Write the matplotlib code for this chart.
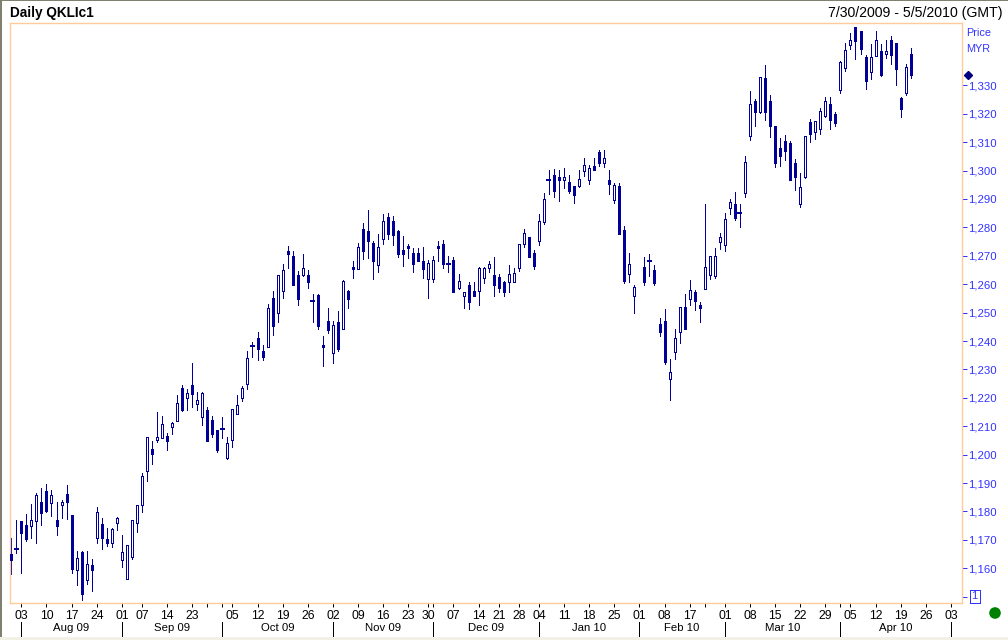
import numpy as np
import matplotlib
matplotlib.use("Agg")
import matplotlib.pyplot as plt
from matplotlib.patches import Rectangle
from matplotlib.transforms import blended_transform_factory

nan = np.nan

opens = [
    1165.0, 1166.8, 1176.7, 1175.2, 1174.9, 1176.7, 1183.3, 1187.2, 1183.0, 1177.0,
    1182.3, 1186.2, 1178.8, 1159.4, 1165.7, 1155.9, 1161.2, 1170.7, 1175.6, 1170.3,
    1168.9, 1176.0, 1162.9, 1156.2, 1164.0, 1176.0, 1182.3, 1194.3, 1202.0, 1205.2,
    1205.9, 1206.6, 1209.7, 1211.9, 1223.5, 1219.9, 1224.5, 1217.8, 1213.3, 1215.7,
    1212.2, 1208.7, 1209.0, 1198.8, 1205.2, 1214.3, 1219.9, 1224.9, 1238.2, 1241.1,
    1236.5, 1237.9, 1255.1, 1249.9, 1257.6, 1271.7, 1269.9, 1263.2, 1263.2, 1263.2,
    1254.1, 1256.2, 1238.6, 1247.1, 1235.8, 1246.7, 1244.2, 1257.6, 1266.1, 1265.4,
    1279.4, 1278.7, 1274.5, 1266.8, 1275.9, 1283.7, 1282.2, 1278.7, 1272.0, 1273.4,
    1271.0, 1271.0, 1268.2, 1261.8, 1261.8, 1273.4, 1274.2, 1267.1, 1268.5, 1258.7,
    1255.9, 1259.7, 1257.6, 1257.6, 1262.2, 1265.7, 1263.2, 1262.5, 1260.8, 1260.8,
    1260.8, 1265.7, 1274.2, 1276.6, 1271.0, 1275.2, 1281.9, 1296.7, 1298.4, 1297.7,
    1296.7, 1296.0, 1294.6, 1294.6, 1299.9, 1296.7, 1301.6, 1306.5, 1302.7, 1296.7,
    1289.6, 1294.6, 1279.1, 1263.6, 1255.9, nan, 1266.1, 1268.2, 1265.0, 1246.0,
    1247.1, 1226.6, 1236.1, 1243.2, 1252.0, 1254.8, 1257.3, 1252.7, 1258.3, 1263.2,
    1262.9, 1274.9, 1273.8, 1286.8, 1288.2, 1285.1, 1292.1, 1312.3, 1324.5, 1320.6,
    1332.6, 1324.5, 1315.7, 1307.9, 1310.4, 1309.6, 1302.7, 1288.2, 1297.7, 1317.1,
    1313.6, 1314.6, 1319.2, 1323.4, 1319.9, 1328.4, 1336.1, 1344.2, 1350.5, 1349.1,
    1340.0, 1334.7, 1340.3, 1342.1, 1341.0, 1346.0, 1344.9, 1325.6, 1327.3, 1341.0,
]
highs = [
    1170.7, 1177.0, 1176.7, 1179.1, 1182.6, 1186.5, 1188.3, 1189.7, 1187.6, 1183.3,
    1184.0, 1189.3, 1178.8, 1166.1, 1166.1, 1166.1, 1163.3, 1181.6, 1177.7, 1174.2,
    1174.2, 1178.1, 1171.7, 1168.2, 1177.0, 1182.3, 1193.6, 1206.2, 1204.8, 1215.0,
    1213.6, 1207.6, 1211.5, 1221.0, 1224.5, 1223.1, 1232.3, 1222.1, 1222.1, 1216.8,
    1213.6, 1208.7, 1213.3, 1206.2, 1216.1, 1221.0, 1224.2, 1236.5, 1239.7, 1243.2,
    1238.6, 1253.0, 1257.6, 1263.2, 1267.1, 1273.4, 1271.7, 1264.6, 1270.6, 1265.0,
    1256.6, 1256.6, 1241.8, 1251.6, 1247.1, 1250.6, 1261.5, 1258.0, 1268.2, 1274.5,
    1281.5, 1286.1, 1275.2, 1277.7, 1284.7, 1285.1, 1284.0, 1279.1, 1277.0, 1274.2,
    1272.7, 1272.7, 1273.1, 1268.5, 1269.9, 1275.2, 1275.6, 1269.9, 1269.6, 1263.6,
    1257.3, 1260.8, 1260.8, 1266.1, 1266.1, 1268.2, 1269.6, 1263.6, 1261.1, 1266.8,
    1265.7, 1274.2, 1279.4, 1276.6, 1272.0, 1284.7, 1292.1, 1300.2, 1300.6, 1300.2,
    1300.9, 1298.4, 1294.6, 1300.2, 1304.4, 1302.0, 1304.4, 1307.2, 1307.2, 1300.2,
    1295.6, 1295.6, 1280.5, 1271.0, 1259.7, nan, 1269.6, 1270.6, 1266.8, 1248.1,
    1251.3, 1233.7, 1244.2, 1252.0, 1256.6, 1261.5, 1258.0, 1253.7, 1288.2, 1269.9,
    1272.7, 1278.0, 1285.1, 1290.0, 1292.5, 1288.2, 1305.1, 1328.0, 1325.2, 1332.9,
    1337.2, 1326.6, 1315.7, 1311.5, 1312.5, 1310.4, 1304.1, 1299.1, 1312.2, 1318.2,
    1317.5, 1322.0, 1325.9, 1325.9, 1320.6, 1338.6, 1344.9, 1348.4, 1350.5, 1349.1,
    1340.7, 1344.6, 1349.1, 1344.6, 1346.0, 1347.4, 1344.9, 1325.9, 1337.5, 1343.1,
]
lows = [
    1158.0, 1165.4, 1158.4, 1169.6, 1170.7, 1168.9, 1175.2, 1179.8, 1178.4, 1171.7,
    1177.7, 1177.4, 1158.4, 1154.1, 1148.8, 1154.5, 1152.0, 1168.9, 1166.8, 1167.9,
    1167.5, 1173.5, 1160.5, 1156.2, 1163.3, 1172.8, 1179.8, 1190.7, 1196.7, 1204.5,
    1205.9, 1201.6, 1207.3, 1211.9, 1215.4, 1215.7, 1216.8, 1215.7, 1210.4, 1204.8,
    1206.2, 1200.9, 1205.9, 1198.5, 1202.7, 1214.3, 1218.9, 1223.1, 1234.4, 1233.3,
    1233.3, 1237.9, 1242.1, 1246.7, 1255.1, 1265.7, 1259.7, 1252.7, 1262.9, 1258.7,
    1246.7, 1244.2, 1231.2, 1242.8, 1232.3, 1236.5, 1244.2, 1251.6, 1262.2, 1265.4,
    1268.9, 1269.2, 1261.8, 1264.3, 1274.2, 1275.9, 1273.8, 1269.6, 1266.4, 1269.2,
    1264.3, 1268.2, 1262.2, 1255.1, 1260.8, 1268.2, 1265.7, 1264.3, 1257.3, 1258.3,
    1251.6, 1251.3, 1255.9, 1252.7, 1260.4, 1264.3, 1255.9, 1257.3, 1255.9, 1257.3,
    1260.8, 1264.7, 1273.1, 1269.6, 1265.4, 1273.8, 1281.2, 1291.8, 1290.7, 1289.3,
    1293.9, 1292.1, 1288.6, 1294.2, 1298.1, 1295.3, 1300.2, 1301.6, 1301.3, 1291.8,
    1288.6, 1277.7, 1260.4, 1260.8, 1249.9, nan, 1259.7, 1262.9, 1259.7, 1241.8,
    1231.9, 1219.2, 1233.7, 1239.3, 1244.2, 1252.7, 1250.9, 1246.7, 1258.3, 1261.8,
    1262.2, 1272.4, 1271.7, 1284.7, 1282.6, 1280.1, 1290.7, 1310.8, 1315.7, 1320.3,
    1317.8, 1311.8, 1301.3, 1301.6, 1303.7, 1296.7, 1293.2, 1287.2, 1297.4, 1310.1,
    1311.1, 1312.9, 1318.9, 1314.6, 1315.7, 1327.3, 1335.1, 1342.8, 1339.3, 1341.0,
    1328.7, 1332.2, 1340.3, 1333.3, 1339.6, 1337.5, 1330.1, 1318.9, 1326.6, 1332.6,
]
closes = [
    1162.9, 1166.8, 1172.4, 1170.3, 1177.0, 1185.8, 1179.5, 1180.2, 1185.8, 1174.9,
    1183.3, 1183.3, 1159.8, 1163.6, 1151.0, 1161.5, 1159.4, 1179.8, 1170.7, 1168.9,
    1173.8, 1177.7, 1165.7, 1168.2, 1177.0, 1182.3, 1192.5, 1206.2, 1200.2, 1206.2,
    1210.8, 1204.8, 1211.1, 1218.2, 1215.7, 1221.7, 1221.4, 1219.2, 1221.7, 1204.8,
    1207.3, 1201.6, 1209.0, 1204.1, 1216.1, 1217.5, 1223.5, 1234.0, 1238.2, 1237.2,
    1234.4, 1251.6, 1245.3, 1263.2, 1265.0, 1270.6, 1259.7, 1254.8, 1265.7, 1260.8,
    1254.1, 1245.3, 1237.9, 1243.9, 1245.6, 1237.2, 1261.1, 1254.8, 1265.4, 1273.1,
    1271.7, 1275.2, 1268.2, 1273.1, 1282.2, 1277.7, 1277.3, 1270.6, 1270.6, 1272.7,
    1267.1, 1268.2, 1265.4, 1267.5, 1268.5, 1272.7, 1267.1, 1267.1, 1257.3, 1261.1,
    1257.3, 1253.7, 1255.9, 1265.7, 1265.7, 1267.1, 1259.7, 1258.7, 1257.3, 1263.6,
    1264.0, 1274.2, 1278.0, 1269.6, 1266.4, 1282.3, 1290.0, 1296.7, 1292.8, 1296.7,
    1297.7, 1292.8, 1291.4, 1297.0, 1302.0, 1300.9, 1300.2, 1302.7, 1304.4, 1295.3,
    1294.9, 1277.7, 1261.1, 1267.1, 1259.0, nan, 1260.8, 1268.2, 1260.4, 1243.2,
    1232.6, 1229.1, 1241.1, 1252.0, 1244.2, 1258.0, 1254.1, 1251.6, 1266.1, 1269.9,
    1269.9, 1276.6, 1283.0, 1288.9, 1283.3, 1285.1, 1303.0, 1323.4, 1320.6, 1332.9,
    1320.6, 1315.7, 1302.7, 1305.1, 1306.9, 1296.7, 1297.7, 1294.2, 1312.2, 1312.9,
    1317.5, 1321.0, 1324.5, 1317.8, 1316.7, 1338.2, 1342.4, 1346.0, 1345.6, 1342.8,
    1331.5, 1340.0, 1346.0, 1333.6, 1342.1, 1340.7, 1335.8, 1321.7, 1336.5, 1333.6,
]

tick_pos = [2, 7, 12, 17, 22, 26, 31, 36, 39, 42, 44, 49, 54, 59, 64, 69, 74, 79, 83, 84, 88, 93,
            97, 101, 105, 110, 115, 120, 125, 130, 135, 138, 142, 147, 152, 157, 162, 165, 167,
            172, 177, 182, 187]
tick_labels = ["03", "10", "17", "24", "01", "07", "14", "23", "", "", "05", "12", "19", "26", "02",
               "09", "16", "23", "30", "", "07", "14", "21", "28", "04", "11", "18", "25", "01",
               "08", "17", "", "01", "08", "15", "22", "29", "", "05", "12", "19", "26", "03"]
month_pos = [2, 22, 42, 64, 84, 105, 125, 142, 165, 187]
month_labels = ["Aug 09", "Sep 09", "Oct 09", "Nov 09", "Dec 09", "Jan 10", "Feb 10", "Mar 10", "Apr 10"]
price_ticks = list(range(1160, 1340, 10))

W, H = 1008, 640
NAVY = "#000099"
BLUE = "#3333FF"
PEACH = "#FFCC99"
FONT = "Liberation Sans"

plt.rcParams["font.family"] = FONT

fig = plt.figure(figsize=(W / 100, H / 100), dpi=100, facecolor="white")

# outer window frame
fig.patches.append(Rectangle((0, 0), 2 / W, 1, transform=fig.transFigure, fc="#808070", ec="none"))
fig.patches.append(Rectangle((0, 1 - 1 / H), 1, 1 / H, transform=fig.transFigure, fc="#808070", ec="none"))
fig.patches.append(Rectangle((0, 0), 1, 3 / H, transform=fig.transFigure, fc="#F1F1E6", ec="none"))

left, right, top, bottom = 9.5, 962.5, 23, 603
ax = fig.add_axes([left / W, 1 - bottom / H, (right - left) / W, (bottom - top) / H])

step = 5.025
ax.set_xlim((left - 11.3) / step, (right - 11.3) / step)
per_unit = 2.841
ax.set_ylim(1160 - (bottom - 568.3) / per_unit, 1160 + (568.3 - top) / per_unit)

x = np.arange(len(opens))
o = np.array(opens)
h = np.array(highs)
l = np.array(lows)
c = np.array(closes)
ok = ~np.isnan(o)
doji = ok & (o == c)
down = ok & (c < o)
up = ok & (c > o)

ax.vlines(x[ok], l[ok], h[ok], color=NAVY, linewidth=0.72, antialiased=False, zorder=2)
ax.bar(x[down], (o - c)[down], bottom=c[down], width=2 / step, facecolor=NAVY, edgecolor=NAVY,
       linewidth=0.72, antialiased=False, zorder=3)
ax.bar(x[up], (c - o)[up], bottom=o[up], width=2 / step, facecolor="white", edgecolor=NAVY,
       linewidth=0.72, antialiased=False, zorder=3)
ax.hlines(c[doji], x[doji] - 2.5 / step, x[doji] + 2.5 / step, color=NAVY, linewidth=1.44,
          antialiased=False, zorder=3)

for s in ax.spines.values():
    s.set_color(PEACH)
    s.set_linewidth(1.0)

ax.yaxis.tick_right()
ax.set_yticks([1150] + price_ticks)
ax.set_yticklabels([""] + [f"{p:,}" for p in price_ticks])
ax.tick_params(axis="y", length=3.6, width=0.72, color=BLUE, labelcolor=BLUE, labelsize=8.2, pad=0.6)

ax.set_xticks(tick_pos)
ax.set_xticklabels(tick_labels)
ax.tick_params(axis="x", length=2.6, width=0.72, color="black", labelcolor="black", labelsize=8.8, pad=2.2)

# month row under the date ticks
trans = blended_transform_factory(ax.transData, fig.transFigure)
for m in month_pos:
    ax.plot([m, m], [1 - 622 / H, 1 - 636 / H], color="black", linewidth=0.72, transform=trans,
            clip_on=False, antialiased=False)
for i, name in enumerate(month_labels):
    ax.text((month_pos[i] + month_pos[i + 1]) / 2, 1 - 628 / H, name, transform=trans, ha="center",
            va="center", fontsize=8.2, color="black")

# last price marker
ax.plot([1.0055], [closes[-1]], marker="D", markersize=3.8, color="#000080", linestyle="none",
        transform=ax.get_yaxis_transform(), clip_on=False)

fig.text(10.5 / W, 1 - 13 / H, "Daily QKLIc1", fontsize=9.8, fontweight="bold", va="center", ha="left")
fig.text(1002.5 / W, 1 - 13 / H, "7/30/2009 - 5/5/2010 (GMT)", fontsize=10.2, va="center", ha="right")
fig.text(966.5 / W, 1 - 33 / H, "Price", fontsize=7.8, color=BLUE, va="center", ha="left")
fig.text(966.5 / W, 1 - 49 / H, "MYR", fontsize=7.8, color=BLUE, va="center", ha="left")

# scale box
fig.patches.append(Rectangle((969.5 / W, 1 - 602.5 / H), 10 / W, 13 / H, transform=fig.transFigure,
                             fc="white", ec=BLUE, lw=0.72, antialiased=False))
fig.text(974.5 / W, 1 - 596 / H, "1", fontsize=8, color=BLUE, va="center", ha="center")

# status light
fig.patches.append(plt.Circle((995, H - 613), 5.8, transform=None, fc="#008000", ec="none"))

fig.savefig("out.png", dpi=100, facecolor=fig.get_facecolor())
